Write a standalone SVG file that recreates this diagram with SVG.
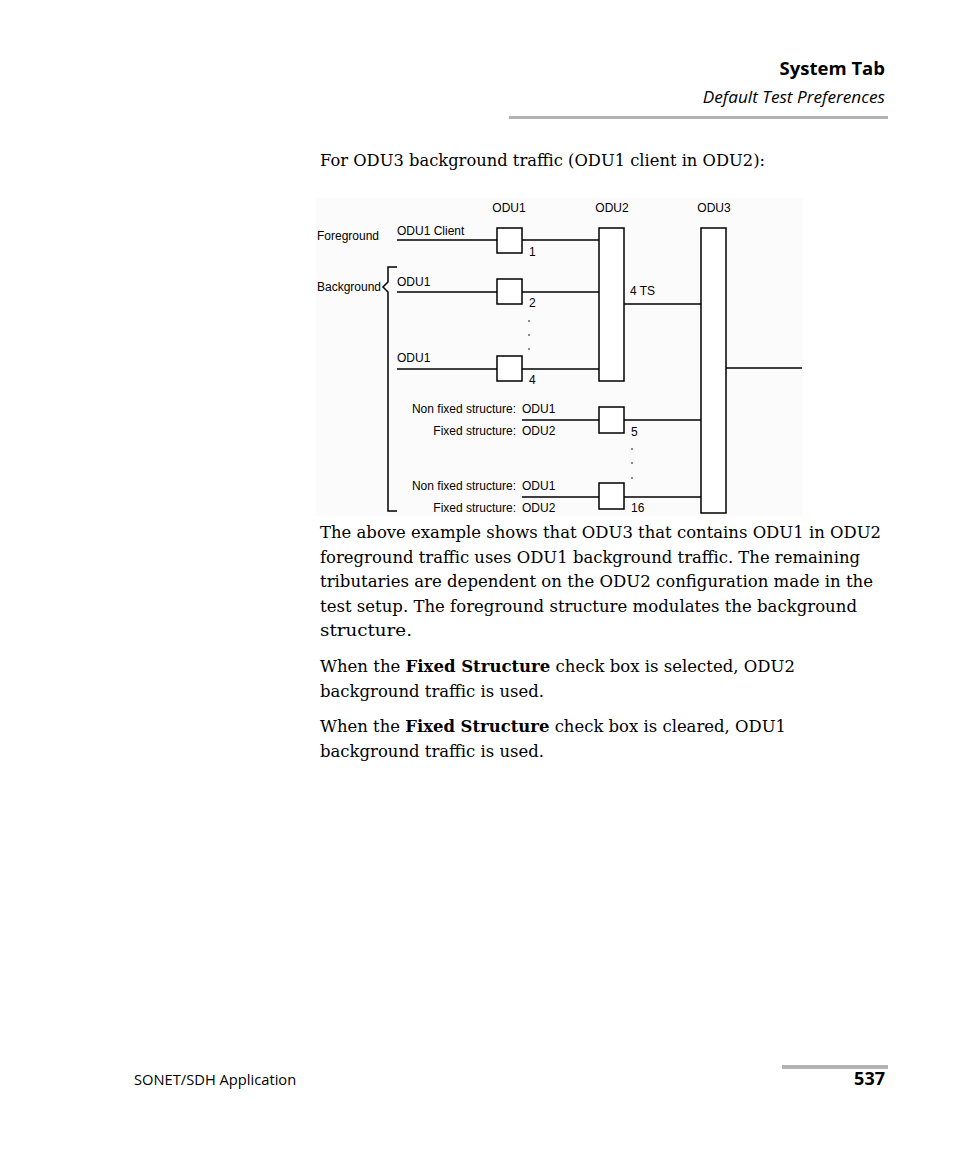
<svg xmlns="http://www.w3.org/2000/svg" width="954" height="1159" viewBox="0 0 954 1159">
<style>
.hd{font-family:"Open Sans","Noto Sans",sans-serif;fill:#000}
.bd{font-family:"DejaVu Serif","Liberation Serif",serif;font-size:17px;fill:#000}
.dg{font-family:"Liberation Sans",Arial,sans-serif;font-size:12px;fill:#000}
.ln{stroke:#000;stroke-width:1.5;fill:none}
.bx{stroke:#000;stroke-width:1.5;fill:#fff}
.dot{fill:#000}
</style>
<rect width="954" height="1159" fill="#fff"/>
<!-- header -->
<text class="hd" x="885" y="75" font-size="18.5" font-weight="bold" text-anchor="end">System Tab</text>
<text class="hd" x="885" y="103" font-size="17.2" font-style="italic" text-anchor="end">Default Test Preferences</text>
<rect x="509" y="116" width="379" height="3" fill="#b3b3b3"/>
<text class="bd" x="320" y="166" textLength="445" lengthAdjust="spacingAndGlyphs">For ODU3 background traffic (ODU1 client in ODU2):</text>
<!-- diagram -->
<rect x="316" y="198" width="487" height="318" fill="#fbfbfb"/>
<g id="headers">
<text class="dg" x="509" y="212" text-anchor="middle">ODU1</text>
<text class="dg" x="612" y="212" text-anchor="middle">ODU2</text>
<text class="dg" x="714" y="212" text-anchor="middle">ODU3</text>
</g>
<g id="labels">
<text class="dg" x="317" y="240">Foreground</text>
<text class="dg" x="317" y="291">Background</text>
<text class="dg" x="397" y="235">ODU1 Client</text>
<text class="dg" x="397" y="286">ODU1</text>
<text class="dg" x="397" y="362">ODU1</text>
<text class="dg" x="516" y="413" text-anchor="end">Non fixed structure:</text>
<text class="dg" x="516" y="435" text-anchor="end">Fixed structure:</text>
<text class="dg" x="522" y="413">ODU1</text>
<text class="dg" x="522" y="435">ODU2</text>
<text class="dg" x="516" y="490" text-anchor="end">Non fixed structure:</text>
<text class="dg" x="516" y="512" text-anchor="end">Fixed structure:</text>
<text class="dg" x="522" y="490">ODU1</text>
<text class="dg" x="522" y="512">ODU2</text>
<text class="dg" x="529" y="256">1</text>
<text class="dg" x="529" y="307">2</text>
<text class="dg" x="529" y="384">4</text>
<text class="dg" x="630" y="295">4 TS</text>
<text class="dg" x="631" y="436">5</text>
<text class="dg" x="631" y="512">16</text>
</g>
<g id="bracket">
<path class="ln" d="M397 267 H388 V282 L383 287 L388 292 V511 H397"/>
</g>
<g id="connectors">
<path class="ln" d="M397 240 H599"/>
<path class="ln" d="M397 292 H599"/>
<path class="ln" d="M397 369 H599"/>
<path class="ln" d="M624 304 H701"/>
<path class="ln" d="M726 368 H802"/>
<path class="ln" d="M522 420 H701"/>
<path class="ln" d="M522 497 H701"/>
<circle class="dot" cx="529" cy="321" r="0.8"/>
<circle class="dot" cx="529" cy="335" r="0.8"/>
<circle class="dot" cx="529" cy="349" r="0.8"/>
<circle class="dot" cx="632" cy="449" r="0.8"/>
<circle class="dot" cx="632" cy="463" r="0.8"/>
<circle class="dot" cx="632" cy="478" r="0.8"/>
</g>
<g id="box1"><rect class="bx" x="497" y="228" width="25" height="25"/></g>
<g id="box2"><rect class="bx" x="497" y="279" width="25" height="25"/></g>
<g id="box4"><rect class="bx" x="497" y="356" width="25" height="25"/></g>
<g id="box5"><rect class="bx" x="599" y="407" width="25" height="26"/></g>
<g id="box16"><rect class="bx" x="599" y="483" width="25" height="26"/></g>
<g id="odu2"><rect class="bx" x="599" y="228" width="25" height="153"/></g>
<g id="odu3"><rect class="bx" x="701" y="228" width="25" height="285"/></g>
<!-- body text -->
<text class="bd" x="320" y="538" textLength="561" lengthAdjust="spacingAndGlyphs">The above example shows that ODU3 that contains ODU1 in ODU2</text>
<text class="bd" x="320" y="563" textLength="540" lengthAdjust="spacingAndGlyphs">foreground traffic uses ODU1 background traffic. The remaining</text>
<text class="bd" x="320" y="587" textLength="553" lengthAdjust="spacingAndGlyphs">tributaries are dependent on the ODU2 configuration made in the</text>
<text class="bd" x="320" y="612" textLength="537" lengthAdjust="spacingAndGlyphs">test setup. The foreground structure modulates the background</text>
<text class="bd" x="320" y="636" textLength="92" lengthAdjust="spacingAndGlyphs">structure.</text>
<text class="bd" x="320" y="672" textLength="475" lengthAdjust="spacingAndGlyphs">When the <tspan font-weight="bold">Fixed Structure</tspan> check box is selected, ODU2</text>
<text class="bd" x="320" y="697" textLength="224" lengthAdjust="spacingAndGlyphs">background traffic is used.</text>
<text class="bd" x="320" y="732" textLength="466" lengthAdjust="spacingAndGlyphs">When the <tspan font-weight="bold">Fixed Structure</tspan> check box is cleared, ODU1</text>
<text class="bd" x="320" y="757" textLength="224" lengthAdjust="spacingAndGlyphs">background traffic is used.</text>
<!-- footer -->
<rect x="782" y="1065" width="106" height="4" fill="#b3b3b3"/>
<text class="hd" x="134" y="1085" font-size="14.7">SONET/SDH Application</text>
<text class="hd" x="885" y="1085" font-size="18" font-weight="bold" text-anchor="end">537</text>
</svg>
